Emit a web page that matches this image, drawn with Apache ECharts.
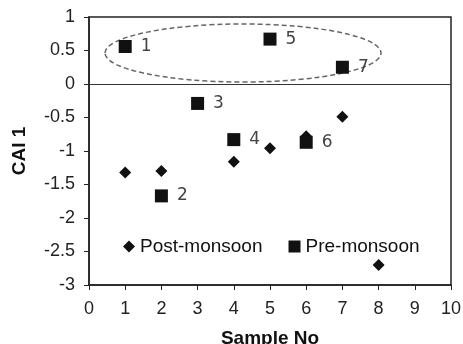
<html>
<head>
    <meta charset="utf-8">
    <title>ECharts</title>
    <script src="https://cdn.jsdelivr.net/npm/echarts@6/dist/echarts.min.js"></script>
</head>
<body style="margin:0">
<div id="main" style="width: 463px;height:344px;"></div>
<script type="text/javascript">
    // sample numbers and CAI 1 values
    var postX = [1, 2, 4, 5, 6, 7, 8];
    var postY = [-1.32, -1.3, -1.16, -0.96, -0.78, -0.49, -2.7];
    var preX = [1, 2, 3, 4, 5, 6, 7];
    var preY = [0.56, -1.67, -0.29, -0.83, 0.67, -0.87, 0.25];
    var xTicks = [0, 10, 1];
    var yTicks = [-3, 1, 0.5];

    function pairs(xs, ys) {
        var out = [];
        for (var i = 0; i < xs.length; i++) {
            out.push([xs[i], ys[i]]);
        }
        return out;
    }

    var myChart = echarts.init(document.getElementById('main'));

    var nameText = { color: '#111', fontSize: 19, fontWeight: 'bold', fontFamily: 'Liberation Sans' };

    var option = {
        animation: false,
        grid: {
            left: 89, right: 12, top: 17, bottom: 59,
            outerBoundsMode: 'none',
            containLabel: false,
            show: true, borderColor: '#222', borderWidth: 1.5
        },
        legend: {
            left: 118, top: 232,
            itemGap: 26,
            itemWidth: 12, itemHeight: 12,
            textStyle: { color: '#111', fontSize: 19, fontFamily: 'Liberation Sans' },
            data: [
                { name: 'Post-monsoon', icon: 'diamond', itemStyle: { color: '#111' } },
                { name: 'Pre-monsoon', icon: 'rect', itemStyle: { color: '#111' } }
            ]
        },
        xAxis: {
            type: 'value',
            min: xTicks[0], max: xTicks[1], interval: xTicks[2],
            name: 'Sample No',
            nameLocation: 'middle',
            nameGap: 44,
            nameTextStyle: nameText,
            axisLine: { onZero: false, lineStyle: { color: '#222', width: 1.5 } },
            axisTick: { show: true, inside: false, length: 5, lineStyle: { color: '#222' } },
            axisLabel: { color: '#222', fontSize: 18, fontFamily: 'Liberation Sans', margin: 15 },
            splitLine: { show: false }
        },
        yAxis: {
            type: 'value',
            min: yTicks[0], max: yTicks[1], interval: yTicks[2],
            name: 'CAI 1',
            nameLocation: 'middle',
            nameGap: 60,
            nameTextStyle: nameText,
            axisLine: { show: true, lineStyle: { color: '#222', width: 1.5 } },
            axisTick: { show: true, inside: false, length: 5, lineStyle: { color: '#222' } },
            axisLabel: { color: '#222', fontSize: 18, fontFamily: 'Liberation Sans', margin: 14 },
            splitLine: { show: false }
        },
        graphic: [{
            type: 'ellipse',
            shape: { cx: 243, cy: 53, rx: 138, ry: 29 },
            style: { fill: 'none', stroke: '#666', lineWidth: 1.5, lineDash: [5, 3] },
            z: 1
        }],
        series: [{
            name: 'Post-monsoon',
            type: 'scatter',
            symbol: 'diamond',
            symbolSize: 12,
            itemStyle: { color: '#111', opacity: 1 },
            data: pairs(postX, postY),
            markLine: {
                silent: true,
                symbol: 'none',
                label: { show: false },
                lineStyle: { color: '#333', width: 1, type: 'solid' },
                data: [{ yAxis: 0 }]
            }
        }, {
            name: 'Pre-monsoon',
            type: 'scatter',
            symbol: 'rect',
            symbolSize: 13,
            itemStyle: { color: '#111', opacity: 1 },
            label: {
                show: true,
                position: 'right',
                distance: 9,
                color: '#444',
                fontSize: 17,
                fontFamily: 'DejaVu Sans',
                formatter: function (p) { return p.value[0]; }
            },
            data: pairs(preX, preY)
        }]
    };

    myChart.setOption(option);
</script>
</body>
</html>
